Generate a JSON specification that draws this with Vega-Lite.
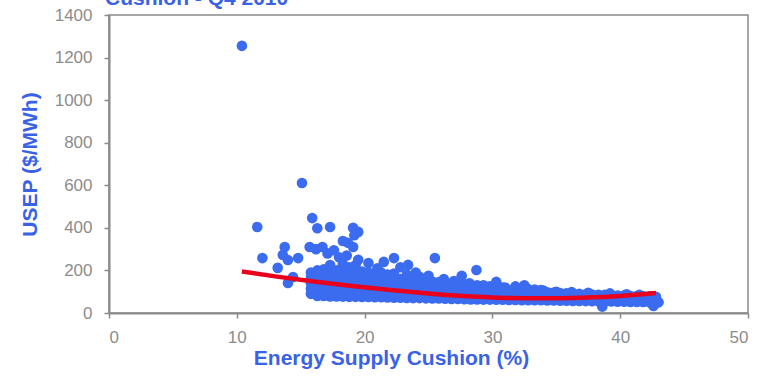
{
"$schema":"https://vega.github.io/schema/vega-lite/v6.json",
"width":639,"height":298,
"autosize":{"type":"none"},
"padding":{"left":109,"top":15,"right":23,"bottom":63},
"background":"white",
"config":{"view":{"stroke":"#8a8a8a","strokeWidth":1.5},"font":"Liberation Sans"},
"title":{"text":"Cushion - Q4 2010","anchor":"start","frame":"group","baseline":"alphabetic","offset":0,"dx":-4,"dy":20,"fontSize":21,"fontWeight":"bold","color":"#3a62e6","font":"Liberation Sans"},
"datasets":{
"pts":[
{"x":10.4,"y":1255},{"x":15.1,"y":611},{"x":11.6,"y":404},{"x":15.9,"y":446},{"x":16.3,"y":398},{"x":17.3,"y":404},{"x":19.1,"y":400},{"x":19.5,"y":381},{"x":19.2,"y":365},{"x":18.3,"y":338},{"x":19.1,"y":310},{"x":18.7,"y":330},
{"x":12.0,"y":258},{"x":13.75,"y":310},{"x":13.6,"y":273},{"x":14.0,"y":249},{"x":14.8,"y":258},{"x":13.2,"y":212},{"x":14.4,"y":169},{"x":14.0,"y":141},{"x":15.7,"y":310},{"x":16.7,"y":310},{"x":16.2,"y":300},{"x":17.1,"y":280},{"x":17.6,"y":295},{"x":18.0,"y":262},{"x":18.6,"y":270},{"x":19.5,"y":250},{"x":20.3,"y":235},{"x":21.0,"y":210},{"x":21.5,"y":240},{"x":22.3,"y":258},{"x":22.8,"y":215},{"x":23.4,"y":226},{"x":24.0,"y":190},{"x":24.5,"y":155},{"x":25.5,"y":258},{"x":25.0,"y":175},{"x":26.2,"y":160},{"x":27.0,"y":150},{"x":27.6,"y":175},{"x":28.75,"y":202},{"x":28.2,"y":140},{"x":29.3,"y":130},{"x":30.3,"y":146},{"x":31.0,"y":120},{"x":31.8,"y":125},{"x":32.5,"y":130},{"x":33.3,"y":110},{"x":34.0,"y":105},{"x":35.0,"y":100},{"x":36.2,"y":98},{"x":37.5,"y":95},{"x":38.6,"y":30},{"x":39.2,"y":92},{"x":40.5,"y":88},{"x":41.5,"y":85},{"x":42.6,"y":33},{"x":43.0,"y":50},
{"x":15.8,"y":90},{"x":15.8,"y":115},{"x":15.8,"y":140},{"x":15.8,"y":165},{"x":15.8,"y":190},
{"x":16.3,"y":80},{"x":16.3,"y":100},{"x":16.3,"y":125},{"x":16.3,"y":150},{"x":16.3,"y":175},{"x":16.3,"y":200},
{"x":16.8,"y":80},{"x":16.8,"y":105},{"x":16.8,"y":130},{"x":16.8,"y":155},{"x":16.8,"y":180},{"x":16.8,"y":205},
{"x":17.3,"y":78},{"x":17.3,"y":100},{"x":17.3,"y":125},{"x":17.3,"y":150},{"x":17.3,"y":175},{"x":17.3,"y":200},{"x":17.3,"y":225},
{"x":17.8,"y":78},{"x":17.8,"y":100},{"x":17.8,"y":125},{"x":17.8,"y":150},{"x":17.8,"y":175},{"x":17.8,"y":200},
{"x":18.3,"y":77},{"x":18.3,"y":100},{"x":18.3,"y":125},{"x":18.3,"y":150},{"x":18.3,"y":175},{"x":18.3,"y":200},{"x":18.3,"y":230},
{"x":18.8,"y":76},{"x":18.8,"y":98},{"x":18.8,"y":120},{"x":18.8,"y":145},{"x":18.8,"y":170},{"x":18.8,"y":195},{"x":18.8,"y":215},
{"x":19.3,"y":76},{"x":19.3,"y":98},{"x":19.3,"y":120},{"x":19.3,"y":145},{"x":19.3,"y":170},{"x":19.3,"y":195},{"x":19.3,"y":225},
{"x":19.8,"y":75},{"x":19.8,"y":97},{"x":19.8,"y":120},{"x":19.8,"y":145},{"x":19.8,"y":170},{"x":19.8,"y":195},
{"x":20.3,"y":75},{"x":20.3,"y":97},{"x":20.3,"y":120},{"x":20.3,"y":145},{"x":20.3,"y":170},{"x":20.3,"y":190},
{"x":20.8,"y":74},{"x":20.8,"y":95},{"x":20.8,"y":118},{"x":20.8,"y":140},{"x":20.8,"y":165},{"x":20.8,"y":185},
{"x":21.3,"y":74},{"x":21.3,"y":95},{"x":21.3,"y":118},{"x":21.3,"y":140},{"x":21.3,"y":165},{"x":21.3,"y":190},
{"x":21.8,"y":73},{"x":21.8,"y":95},{"x":21.8,"y":118},{"x":21.8,"y":140},{"x":21.8,"y":160},{"x":21.8,"y":180},
{"x":22.3,"y":72},{"x":22.3,"y":94},{"x":22.3,"y":115},{"x":22.3,"y":138},{"x":22.3,"y":160},{"x":22.3,"y":185},
{"x":22.8,"y":72},{"x":22.8,"y":94},{"x":22.8,"y":115},{"x":22.8,"y":135},{"x":22.8,"y":160},
{"x":23.3,"y":71},{"x":23.3,"y":92},{"x":23.3,"y":113},{"x":23.3,"y":135},{"x":23.3,"y":158},{"x":23.3,"y":180},
{"x":23.8,"y":70},{"x":23.8,"y":92},{"x":23.8,"y":113},{"x":23.8,"y":135},{"x":23.8,"y":155},
{"x":24.3,"y":70},{"x":24.3,"y":90},{"x":24.3,"y":110},{"x":24.3,"y":130},{"x":24.3,"y":150},{"x":24.3,"y":170},
{"x":24.8,"y":69},{"x":24.8,"y":90},{"x":24.8,"y":110},{"x":24.8,"y":130},{"x":24.8,"y":150},
{"x":25.3,"y":68},{"x":25.3,"y":88},{"x":25.3,"y":108},{"x":25.3,"y":128},{"x":25.3,"y":148},
{"x":25.8,"y":68},{"x":25.8,"y":88},{"x":25.8,"y":108},{"x":25.8,"y":128},{"x":25.8,"y":145},
{"x":26.3,"y":67},{"x":26.3,"y":86},{"x":26.3,"y":105},{"x":26.3,"y":125},{"x":26.3,"y":140},
{"x":26.8,"y":66},{"x":26.8,"y":85},{"x":26.8,"y":104},{"x":26.8,"y":122},{"x":26.8,"y":140},
{"x":27.3,"y":66},{"x":27.3,"y":84},{"x":27.3,"y":102},{"x":27.3,"y":120},{"x":27.3,"y":135},
{"x":27.8,"y":65},{"x":27.8,"y":83},{"x":27.8,"y":100},{"x":27.8,"y":118},{"x":27.8,"y":135},
{"x":28.3,"y":64},{"x":28.3,"y":82},{"x":28.3,"y":100},{"x":28.3,"y":115},{"x":28.3,"y":130},
{"x":28.8,"y":64},{"x":28.8,"y":80},{"x":28.8,"y":98},{"x":28.8,"y":115},{"x":28.8,"y":130},
{"x":29.3,"y":63},{"x":29.3,"y":80},{"x":29.3,"y":96},{"x":29.3,"y":112},
{"x":29.8,"y":63},{"x":29.8,"y":80},{"x":29.8,"y":95},{"x":29.8,"y":110},{"x":29.8,"y":125},
{"x":30.3,"y":62},{"x":30.3,"y":78},{"x":30.3,"y":94},{"x":30.3,"y":110},
{"x":30.8,"y":62},{"x":30.8,"y":78},{"x":30.8,"y":93},{"x":30.8,"y":108},{"x":30.8,"y":120},
{"x":31.3,"y":61},{"x":31.3,"y":77},{"x":31.3,"y":92},{"x":31.3,"y":106},
{"x":31.8,"y":61},{"x":31.8,"y":77},{"x":31.8,"y":90},{"x":31.8,"y":105},{"x":31.8,"y":115},
{"x":32.3,"y":60},{"x":32.3,"y":76},{"x":32.3,"y":90},{"x":32.3,"y":104},
{"x":32.8,"y":60},{"x":32.8,"y":75},{"x":32.8,"y":89},{"x":32.8,"y":102},{"x":32.8,"y":112},
{"x":33.3,"y":60},{"x":33.3,"y":75},{"x":33.3,"y":88},{"x":33.3,"y":100},
{"x":33.8,"y":60},{"x":33.8,"y":74},{"x":33.8,"y":87},{"x":33.8,"y":98},{"x":33.8,"y":108},
{"x":34.3,"y":59},{"x":34.3,"y":73},{"x":34.3,"y":86},{"x":34.3,"y":97},
{"x":34.8,"y":59},{"x":34.8,"y":72},{"x":34.8,"y":85},{"x":34.8,"y":96},
{"x":35.3,"y":58},{"x":35.3,"y":71},{"x":35.3,"y":84},{"x":35.3,"y":94},
{"x":35.8,"y":58},{"x":35.8,"y":70},{"x":35.8,"y":82},{"x":35.8,"y":93},
{"x":36.3,"y":57},{"x":36.3,"y":69},{"x":36.3,"y":81},{"x":36.3,"y":92},
{"x":36.8,"y":57},{"x":36.8,"y":68},{"x":36.8,"y":80},{"x":36.8,"y":90},
{"x":37.3,"y":56},{"x":37.3,"y":67},{"x":37.3,"y":78},{"x":37.3,"y":88},
{"x":37.8,"y":55},{"x":37.8,"y":66},{"x":37.8,"y":77},{"x":37.8,"y":87},
{"x":38.3,"y":55},{"x":38.3,"y":65},{"x":38.3,"y":76},{"x":38.3,"y":86},
{"x":38.8,"y":54},{"x":38.8,"y":64},{"x":38.8,"y":75},{"x":38.8,"y":85},
{"x":39.3,"y":54},{"x":39.3,"y":64},{"x":39.3,"y":74},{"x":39.3,"y":84},
{"x":39.8,"y":53},{"x":39.8,"y":63},{"x":39.8,"y":73},{"x":39.8,"y":82},
{"x":40.3,"y":53},{"x":40.3,"y":62},{"x":40.3,"y":72},{"x":40.3,"y":82},
{"x":40.8,"y":52},{"x":40.8,"y":62},{"x":40.8,"y":72},{"x":40.8,"y":80},
{"x":41.3,"y":52},{"x":41.3,"y":61},{"x":41.3,"y":70},{"x":41.3,"y":80},
{"x":41.8,"y":52},{"x":41.8,"y":61},{"x":41.8,"y":70},{"x":41.8,"y":78},
{"x":42.3,"y":50},{"x":42.3,"y":60},{"x":42.3,"y":70},{"x":42.3,"y":78},
{"x":42.8,"y":48},{"x":42.8,"y":58},{"x":42.8,"y":68},{"x":42.8,"y":76}
],
"trend":[
{"x":10.4,"y":195},{"x":13,"y":172},{"x":16,"y":148},{"x":19,"y":127},{"x":22,"y":108},{"x":25,"y":92},{"x":28,"y":79},{"x":31,"y":71},{"x":34,"y":69},{"x":37,"y":72},{"x":40,"y":80},{"x":42.8,"y":94}
]
},
"layer":[
{"data":{"name":"pts"},"mark":{"type":"circle","size":113,"color":"#3b6cf0","opacity":1},
"encoding":{
"x":{"field":"x","type":"quantitative","scale":{"domain":[0,50],"nice":false},
"axis":{"title":"Energy Supply Cushion (%)","values":[0,10,20,30,40,50],"format":"d","grid":false,"domainColor":"#8a8a8a","domainWidth":2,"tickColor":"#8a8a8a","tickSize":5,"tickWidth":1.5,"labelColor":"#8c8c8c","labelFontSize":17,"labelPadding":11,"labelFont":"Liberation Sans","titleColor":"#3a62e6","titleFontSize":21,"titleFontWeight":"bold","titleFont":"Liberation Sans","titlePadding":2,"titleX":282,"titleAnchor":"middle"}},
"y":{"field":"y","type":"quantitative","scale":{"domain":[0,1400],"nice":false},
"axis":{"title":"USEP ($/MWh)","values":[0,200,400,600,800,1000,1200,1400],"format":"d","grid":false,"domainColor":"#8a8a8a","domainWidth":2,"tickColor":"#8a8a8a","tickSize":5,"tickWidth":1.5,"labelColor":"#8c8c8c","labelFontSize":17,"labelPadding":12,"labelFont":"Liberation Sans","titleColor":"#3a62e6","titleFontSize":21,"titleFontWeight":"bold","titleFont":"Liberation Sans","titlePadding":14}}
}},
{"data":{"name":"trend"},"mark":{"type":"line","color":"#e8001c","strokeWidth":4.5,"interpolate":"monotone"},
"encoding":{"x":{"field":"x","type":"quantitative"},"y":{"field":"y","type":"quantitative"}}}
]
}
